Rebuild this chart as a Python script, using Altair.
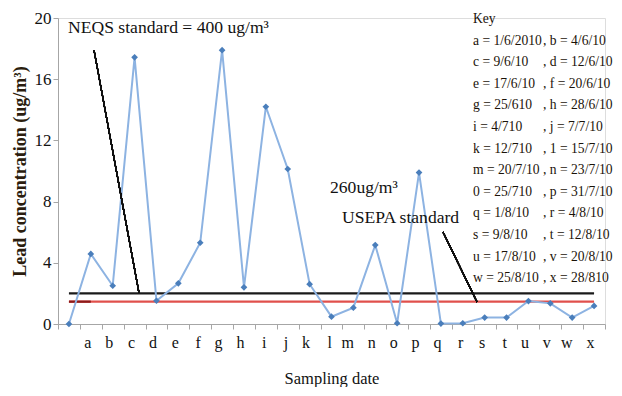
import altair as alt
import pandas as pd

categories = ["start", "a", "b", "c", "d", "e", "f", "g", "h", "i", "j", "k", "l",
              "m", "n", "o", "p", "q", "r", "s", "t", "u", "v", "w", "x"]
lead = [0.0, 4.58, 2.5, 17.43, 1.52, 2.66, 5.31, 17.9, 2.4, 14.2, 10.13, 2.6, 0.48,
        1.07, 5.16, 0.05, 9.9, 0.03, 0.05, 0.42, 0.42, 1.5, 1.35, 0.42, 1.18]

neqs_level = 2.0
usepa_level = 1.46

key_left = [
    "Key",
    "a = 1/6/2010",
    "c = 9/6/10",
    "e = 17/6/10",
    "g = 25/610",
    "i =  4/710",
    "k = 12/710",
    "m = 20/7/10",
    "0 = 25/710",
    "q = 1/8/10",
    "s = 9/8/10",
    "u = 17/8/10",
    "w = 25/8/10",
]
key_right = [
    "",
    ", b = 4/6/10",
    ", d = 12/6/10",
    ", f = 20/6/10",
    ", h = 28/6/10",
    ", j = 7/7/10",
    ", 1 = 15/7/10",
    ", n = 23/7/10",
    ", p = 31/7/10",
    ", r = 4/8/10",
    ", t = 12/8/10",
    ", v = 20/8/10",
    ", x = 28/810",
]

FONT = "Liberation Serif"
df = pd.DataFrame({"cat": categories, "lead": lead})

xscale = alt.Scale(domain=categories, paddingInner=0, paddingOuter=0)
yscale = alt.Scale(domain=[0, 20], nice=False)

xaxis = alt.Axis(
    title="Sampling date", titleFont=FONT, titleFontSize=16.5, titleFontWeight="normal",
    titleColor="#111", titlePadding=20,
    labelFont=FONT, labelFontSize=16, labelColor="#111", labelAngle=0, labelPadding=13,
    labelExpr="datum.value == 'start' ? '' : datum.value",
    tickBand="extent", tickColor="#a6a6a6", tickSize=5, domainColor="#a6a6a6",
    grid=False,
)
yaxis = alt.Axis(
    title="Lead concentration (ug/m³)", titleFont=FONT, titleFontSize=18,
    titleFontWeight="bold", titleColor="#2b1d0e", titlePadding=5,
    values=list(range(0, 21, 2)),
    labelExpr="datum.value % 4 == 0 ? datum.value : ''",
    labelFont=FONT, labelFontSize=17, labelColor="#111", labelPadding=2,
    tickColor="#a6a6a6", tickSize=5, domainColor="#a6a6a6", grid=False,
)

base = alt.Chart(df)

line = base.mark_line(color="#8db3e2", strokeWidth=2).encode(
    x=alt.X("cat:N", scale=xscale, axis=xaxis, sort=categories),
    y=alt.Y("lead:Q", scale=yscale, axis=yaxis),
)
points = base.mark_point(shape="diamond", filled=True, color="#4a7ebb", size=45, opacity=1).encode(
    x=alt.X("cat:N", scale=xscale, sort=categories),
    y=alt.Y("lead:Q", scale=yscale),
)

std_df = pd.DataFrame({
    "x1": [categories[0], categories[0], categories[0]],
    "x2": [categories[-1], categories[-1], categories[1]],
    "level": [neqs_level, usepa_level, usepa_level],
    "col": ["black", "red", "darkred"],
})
std = alt.Chart(std_df).mark_rule(strokeWidth=2.2).encode(
    x=alt.X("x1:N", scale=xscale, sort=categories),
    x2="x2:N",
    y=alt.Y("level:Q", scale=yscale),
    color=alt.Color("col:N", scale=alt.Scale(domain=["black", "red", "darkred"],
                                              range=["#1a1a1a", "#e0504c", "#8b1a1a"]),
                    legend=None),
)

neqs_ptr = alt.Chart(df).mark_rule(color="#111", strokeWidth=1.2).encode(
    x=alt.value(36), y=alt.value(32), x2=alt.value(81), y2=alt.value(275))
usepa_ptr = alt.Chart(df).mark_rule(color="#111", strokeWidth=1.2).encode(
    x=alt.value(385), y=alt.value(214), x2=alt.value(419), y2=alt.value(284))

def label(txt, x, y, size=17.6, baseline="middle", color="#111", **kw):
    return alt.Chart(pd.DataFrame({"t": [txt]})).mark_text(
        font=FONT, fontSize=size, align="left", baseline=baseline, color=color, **kw
    ).encode(text="t:N", x=alt.value(x), y=alt.value(y))

neqs_txt = label("NEQS standard = 400 ug/m³", 10, 10)
usepa_txt1 = label("260ug/m³", 272, 170)
usepa_txt2 = label("USEPA standard", 284, 200)
key_l = label("\n".join(key_left), 415, -6, size=13.6, baseline="top",
              lineBreak="\n", lineHeight=21.6, color="#1a1208")
key_r = label("\n".join(key_right), 485, -6, size=13.6, baseline="top",
              lineBreak="\n", lineHeight=21.6, color="#1a1208")

chart = alt.layer(
    std, line, points, neqs_ptr, usepa_ptr, neqs_txt, usepa_txt1, usepa_txt2, key_l, key_r
).properties(
    width=547, height=306,
    autosize=alt.AutoSizeParams(type="none"),
    padding={"left": 50, "top": 10, "right": 9, "bottom": 63},
).configure_view(stroke=None).configure(background="white")

chart.save("out.html", embed_options={"renderer": "svg", "actions": False})
